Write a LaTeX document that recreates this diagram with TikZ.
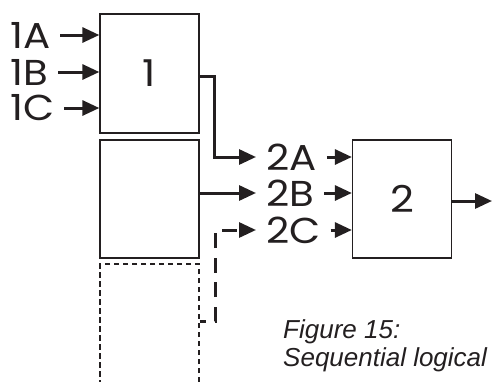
\documentclass[tikz,border=0pt]{standalone}
\usepackage{fontspec}
\newfontfamily\labfont[FakeStretch=1.12]{Poppins}
\newfontfamily\capfont{Liberation Sans}
\usetikzlibrary{arrows.meta}
\definecolor{ink}{RGB}{35,31,32}
\tikzset{
  blockbox/.style={draw=ink, line width=1.3pt, minimum width=99pt, minimum height=118pt, inner sep=0pt,
    font=\labfont\fontsize{37}{37}\selectfont, text=ink},
  dashbox/.style={blockbox, dash pattern=on 5.5pt off 3.5pt},
  lab/.style={font=\labfont\fontsize{36}{36}\selectfont, text=ink, inner xsep=10pt, inner ysep=0pt, anchor=west},
  conn/.style={draw=ink, line width=3pt, -{Triangle[length=17pt,width=15pt]}},
  dconn/.style={conn, dash pattern=on 15pt off 9.5pt, dash phase=9pt}
}
\begin{document}
\begin{tikzpicture}[x=1pt,y=-1pt]
\useasboundingbox (0,0) rectangle (493,381);
\clip (0,0) rectangle (493,381);
% blocks
\node[blockbox, minimum height=119pt] (b1) at (149.5,73.5) {1};
\node[blockbox] (b1b) at (149.5,199) {};
\node[dashbox, minimum height=136pt] (b1c) at (149.5,332) {};
\node[blockbox] (b2) at (402,199) {2};
% input labels
\node[lab] (l1a) at (0,35) {1A};
\node[lab] (l1b) at (0,72) {1B};
\node[lab] (l1c) at (0,108) {1C};
\node[lab] (l2a) at (256,157) {2A};
\node[lab] (l2b) at (256,193) {2B};
\node[lab] (l2c) at (256,230) {2C};
% input arrows
\draw[conn] (l1a.east) -- (b1.west |- l1a.east);
\draw[conn] (l1b.east) -- (b1.west |- l1b.east);
\draw[conn] (l1c.east) -- (b1.west |- l1c.east);
\draw[conn] (l2a.east) -- (b2.west |- l2a.east);
\draw[conn] (l2b.east) -- (b2.west |- l2b.east);
\draw[conn] (l2c.east) -- (b2.west |- l2c.east);
% block outputs
\draw[conn] ([yshift=-2.5pt]b1.east) -- ++(15,0) |- (l2a.west);
\draw[conn] (b1b.east |- l2b.west) -- (l2b.west);
\draw[dconn] ([yshift=11pt]b1c.east) -- ++(16,0) |- (l2c.west);
\coordinate (out) at (492,201);
\draw[conn] (b2.east |- out) -- (out);
% caption
\node[anchor=north west, align=left, inner sep=0pt, text=ink,
  font=\capfont\itshape\fontsize{26}{28}\selectfont] (cap) at (283,319)
  {Figure 15:\\Sequential logical};
\end{tikzpicture}
\end{document}
